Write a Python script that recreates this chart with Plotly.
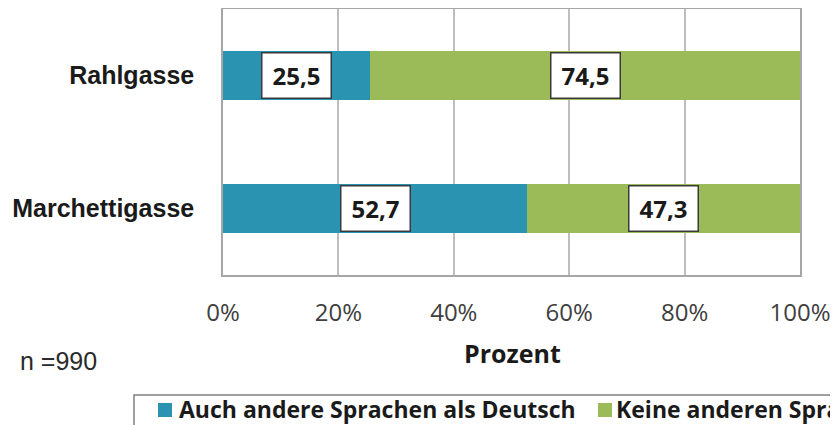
import plotly.graph_objects as go

categories = ["Marchettigasse", "Rahlgasse"]
series_names = ["Auch andere Sprachen als Deutsch", "Keine anderen Sprachen als Deutsch"]
auch_andere = [52.7, 25.5]
keine_anderen = [47.3, 74.5]
x_ticks = [0, 20, 40, 60, 80, 100]
x_ticklabels = ["0%", "20%", "40%", "60%", "80%", "100%"]
sample_note = "n =990"
x_title = "Prozent"

BLUE = "#2A93B2"
GREEN = "#9BBB59"

W, H = 838, 425
OFF = 8  # page body margin
L, R, T, B = 215, 46, 1, 158
PW, PH = W - L - R, H - T - B


def px_x(px):
    return (px - OFF - L) / PW


def px_y(py):
    return (H - B - (py - OFF)) / PH


fig = go.Figure()
fig.add_trace(go.Bar(y=categories, x=auch_andere, orientation="h", name=series_names[0],
                     marker=dict(color=BLUE, line=dict(width=0)), showlegend=False))
fig.add_trace(go.Bar(y=categories, x=keine_anderen, orientation="h", name=series_names[1],
                     marker=dict(color=GREEN, line=dict(width=0)), showlegend=False))

annotations = []
label_font = dict(family="Open Sans", size=24, color="#1a1a1a", weight="bold")
for cat, a, k in zip(categories, auch_andere, keine_anderen):
    for center, val in ((a / 2, a), (a + k / 2, k)):
        annotations.append(dict(
            x=center, y=cat, xref="x", yref="y",
            text=f"{val:.1f}".replace(".", ","), showarrow=False,
            font=label_font, bgcolor="white", bordercolor="#3a3a3a",
            borderwidth=1.5, width=66, height=42, align="center", valign="middle",
        ))

annotations.append(dict(x=px_x(512), y=px_y(353), xref="paper", yref="paper", text=f"<b>{x_title}</b>",
                        showarrow=False, font=dict(family="Open Sans", size=25, color="#1a1a1a"),
                        xanchor="center", yanchor="middle"))
annotations.append(dict(x=px_x(18), y=px_y(361), xref="paper", yref="paper", text=sample_note,
                        showarrow=False, font=dict(family="Liberation Sans", size=25, color="#2a2a2a"),
                        xanchor="left", yanchor="middle"))

# legend (drawn manually so it can run past the right edge as in the reference)
legend_font = dict(family="Open Sans", size=23, color="#1a1a1a", weight="bold")
annotations.append(dict(x=px_x(177), y=px_y(409), xref="paper", yref="paper", text=series_names[0],
                        showarrow=False, font=legend_font, xanchor="left", yanchor="middle"))
annotations.append(dict(x=px_x(614), y=px_y(409), xref="paper", yref="paper", text=series_names[1],
                        showarrow=False, font=legend_font, xanchor="left", yanchor="middle"))

shapes = [
    dict(type="rect", xref="paper", yref="paper", x0=px_x(134), x1=px_x(900), y0=px_y(395), y1=px_y(445),
         line=dict(color="#808080", width=1.5), fillcolor="rgba(0,0,0,0)", layer="above"),
    dict(type="rect", xref="paper", yref="paper", x0=px_x(158), x1=px_x(172), y0=px_y(403), y1=px_y(417),
         line=dict(width=0), fillcolor=BLUE),
    dict(type="rect", xref="paper", yref="paper", x0=px_x(598), x1=px_x(612), y0=px_y(403), y1=px_y(417),
         line=dict(width=0), fillcolor=GREEN),
]

fig.update_layout(
    width=W, height=H, margin=dict(l=L, r=R, t=T, b=B, autoexpand=False),
    paper_bgcolor="white", plot_bgcolor="white",
    barmode="stack", bargap=0.63,
    annotations=annotations, shapes=shapes,
    xaxis=dict(range=[0, 100], tickvals=x_ticks, ticktext=x_ticklabels,
               showgrid=True, gridcolor="#BEBEBE", gridwidth=1.5,
               showline=True, linecolor="#A6A6A6", linewidth=1.5, mirror=True,
               ticks="outside", ticklen=15, tickcolor="rgba(0,0,0,0)",
               tickfont=dict(family="Open Sans", size=24, color="#404040"),
               zeroline=False, fixedrange=True),
    yaxis=dict(categoryorder="array", categoryarray=categories, range=[-0.5, 1.5],
               showgrid=False, showline=True, linecolor="#A6A6A6", linewidth=1.5, mirror=True,
               ticks="outside", ticklen=22, tickcolor="rgba(0,0,0,0)",
               tickfont=dict(family="Liberation Sans", size=25, color="#1a1a1a", weight="bold"),
               fixedrange=True),
    showlegend=False,
)

fig.write_html("out.html")
